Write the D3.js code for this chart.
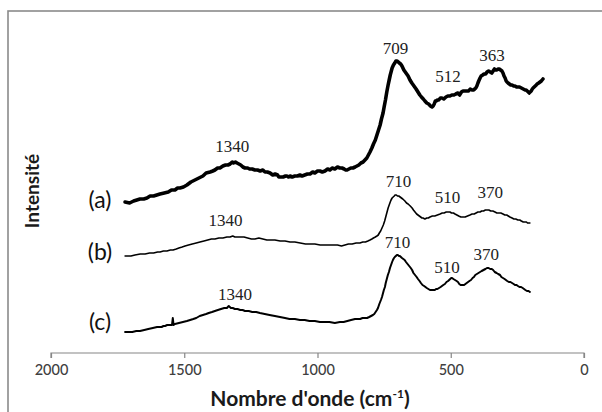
<!DOCTYPE html>
<html><head><meta charset="utf-8">
<script src="https://cdn.jsdelivr.net/npm/d3@7"></script>
<style>html,body{margin:0;padding:0;background:#fff;overflow:hidden}</style>
</head><body>
<svg id="chart" width="602" height="412"></svg>
<script>
// wavenumber (cm-1) , relative intensity (a.u., offset spectra)
const spectrumA = [[1722,151],[1705,150],[1690,152],[1678,153],[1666,154],[1652,154],[1640,155],[1628,157],[1615,157],[1603,158],[1591,159],[1575,160],[1560,161],[1548,163],[1535,163],[1525,165],[1516,165],[1503,166],[1490,168],[1475,171],[1460,173],[1445,175],[1430,177],[1418,180],[1403,181],[1393,182],[1385,183],[1375,185],[1366,185],[1355,187],[1345,188],[1336,188],[1328,189],[1320,191],[1315,190],[1308,191],[1302,190],[1295,189],[1288,188],[1280,186],[1272,185],[1262,185],[1255,184],[1245,184],[1235,183],[1225,183],[1215,182],[1205,183],[1197,181],[1188,181],[1178,180],[1168,178],[1159,179],[1150,178],[1145,176],[1137,176],[1129,176],[1120,177],[1115,177],[1109,176],[1103,177],[1095,176],[1085,177],[1075,177],[1066,178],[1058,177],[1048,178],[1038,179],[1028,179],[1018,181],[1010,180],[1000,182],[991,182],[982,181],[972,182],[962,184],[953,183],[945,185],[935,184],[925,186],[916,185],[908,185],[900,184],[894,183],[889,183],[882,184],[875,185],[867,185],[859,186],[852,187],[845,188],[837,190],[829,191],[822,193],[815,195],[809,198],[803,201],[796,205],[790,209],[783,213],[777,218],[771,223],[765,228],[760,234],[754,240],[750,246],[745,253],[740,261],[735,268],[731,273],[727,278],[723,282],[720,285],[715,288],[710,290],[706,292],[702,292],[697,291],[693,290],[688,289],[683,287],[676,283],[668,280],[660,277],[653,273],[646,270],[638,267],[630,264],[623,261],[616,258],[610,256],[603,254],[597,252],[590,250],[583,249],[576,247],[570,246],[566,247],[562,249],[558,252],[555,252],[550,253],[545,253],[539,255],[533,255],[526,254],[518,256],[511,257],[503,257],[496,258],[488,258],[481,259],[473,260],[467,258],[460,261],[454,262],[447,262],[440,262],[433,262],[427,264],[420,263],[415,263],[410,264],[406,265],[402,267],[398,270],[395,272],[390,275],[386,277],[380,278],[375,279],[369,279],[364,281],[358,282],[352,281],[346,280],[341,282],[336,284],[332,283],[327,283],[323,284],[318,284],[313,283],[308,282],[304,280],[300,277],[296,275],[292,272],[289,271],[285,270],[280,269],[275,268],[270,268],[264,267],[259,267],[253,266],[248,266],[242,266],[235,265],[228,264],[221,263],[217,263],[213,262],[209,261],[206,260],[202,261],[198,262],[194,264],[191,265],[187,266],[183,267],[179,268],[176,269],[170,270],[165,271],[160,272],[154,274]];
const spectrumB = [[1722,97],[1700,97],[1685,98],[1665,99],[1647,99],[1630,100],[1615,100],[1600,101],[1591,101],[1578,102],[1565,102],[1552,103],[1542,103],[1530,104],[1520,105],[1508,106],[1497,107],[1484,108],[1470,109],[1455,110],[1441,111],[1426,112],[1412,113],[1398,114],[1385,114],[1370,115],[1355,115],[1340,116],[1328,116],[1318,117],[1310,116],[1300,116],[1291,116],[1276,116],[1262,115],[1248,114],[1235,114],[1220,115],[1205,114],[1190,113],[1178,113],[1160,113],[1140,112],[1122,112],[1103,111],[1085,111],[1065,110],[1045,109],[1028,109],[1010,109],[990,108],[972,108],[953,108],[938,108],[925,108],[910,107],[897,108],[884,109],[870,109],[855,110],[841,110],[830,111],[820,111],[811,112],[803,113],[796,114],[790,115],[783,116],[777,117],[772,118],[768,120],[763,122],[758,125],[753,128],[748,132],[743,137],[739,141],[735,145],[731,148],[727,151],[724,153],[720,155],[716,156],[712,157],[709,158],[704,158],[700,157],[695,157],[690,156],[685,155],[680,154],[676,153],[672,152],[666,150],[660,149],[652,147],[645,145],[640,143],[634,141],[628,139],[623,138],[618,137],[613,136],[608,135],[604,135],[597,134],[590,135],[584,135],[578,136],[569,137],[560,137],[550,138],[540,139],[532,140],[525,140],[517,141],[510,141],[503,141],[497,140],[490,140],[484,139],[477,138],[470,137],[462,136],[454,136],[446,136],[437,137],[428,138],[420,139],[412,139],[405,140],[398,141],[390,141],[384,142],[377,142],[370,143],[364,143],[357,143],[350,142],[342,142],[334,141],[327,140],[320,140],[312,140],[304,139],[297,138],[290,138],[284,137],[278,136],[270,135],[263,134],[256,134],[248,133],[241,133],[235,132],[228,131],[221,131],[216,131],[212,130],[207,130],[203,130]];
const spectrumC = [[1722,21],[1708,21],[1695,21],[1680,22],[1666,22],[1650,23],[1635,24],[1618,25],[1602,26],[1593,26],[1585,26],[1578,27],[1572,27],[1564,28],[1556,28],[1550,28],[1546,28],[1543,35],[1540,28],[1535,29],[1520,30],[1505,31],[1490,32],[1478,33],[1466,34],[1455,35],[1442,37],[1430,38],[1418,39],[1408,40],[1396,41],[1385,42],[1374,43],[1362,44],[1350,45],[1340,45],[1333,47],[1325,45],[1318,45],[1310,44],[1300,44],[1290,43],[1281,43],[1272,42],[1258,42],[1245,41],[1230,41],[1216,40],[1198,39],[1180,38],[1160,37],[1141,36],[1122,35],[1105,34],[1085,34],[1066,33],[1048,33],[1030,32],[1010,32],[991,31],[972,31],[955,31],[935,30],[916,31],[902,31],[888,32],[874,33],[859,34],[850,34],[840,34],[831,35],[822,35],[814,35],[806,36],[799,37],[792,38],[787,39],[782,41],[777,43],[773,45],[768,49],[762,53],[758,56],[755,59],[751,63],[747,66],[744,70],[740,74],[736,78],[732,81],[728,85],[724,88],[720,91],[717,93],[713,95],[710,96],[706,97],[702,98],[698,98],[695,97],[691,97],[687,96],[683,95],[678,94],[673,93],[668,91],[662,89],[656,87],[650,85],[645,83],[640,80],[634,78],[628,76],[623,74],[617,72],[612,70],[606,68],[600,67],[595,66],[590,65],[584,64],[578,63],[572,63],[566,63],[560,63],[555,64],[550,64],[544,65],[538,66],[533,67],[528,68],[522,69],[516,71],[510,72],[506,73],[502,74],[498,75],[495,75],[490,74],[484,73],[478,72],[473,71],[468,69],[463,68],[458,68],[454,68],[450,68],[445,69],[440,70],[435,71],[430,72],[424,73],[418,75],[413,76],[408,78],[402,79],[396,80],[390,81],[384,82],[377,83],[370,84],[364,85],[358,85],[352,84],[346,84],[341,83],[335,81],[328,80],[322,79],[315,78],[310,76],[304,75],[298,74],[293,73],[288,72],[282,71],[276,71],[270,70],[264,69],[259,68],[253,68],[248,67],[242,66],[236,66],[230,65],[225,64],[220,63],[214,62],[208,62],[203,61]];
const curveNames = ["(a)","(b)","(c)"];
const xTicks = [2000,1500,1000,500,0];
// peak labels: [text, wavenumber position, intensity position]
const labelsA = [["1340",1320,201],["709",707,299],["512",510,271],["363",345,292]];
const labelsB = [["1340",1345,127],["710",696,166],["510",512,150],["370",352,155]];
const labelsC = [["1340",1310,53],["710",700,105],["510",514,80],["370",367,93]];
const nameLevels = [153,101,31];

const svg = d3.select("#chart");
const x = d3.scaleLinear().domain([2000,0]).range([51,584]);
const y = d3.scaleLinear().domain([0,341]).range([353,12]);

// outer frame
svg.append("rect").attr("x",8).attr("y",11).attr("width",620).attr("height",430)
  .attr("fill","none").attr("stroke","#8a8a8a").attr("stroke-width",1.6);

// x axis
const ax = svg.append("g").attr("transform",`translate(0,${y(0)})`)
  .call(d3.axisBottom(x).tickValues(xTicks).tickSize(5).tickPadding(7).tickFormat(d3.format("d")));
ax.select(".domain").attr("stroke","#868686").attr("stroke-width",1.2).attr("d",`M${x(2000)},5V0H${x(0)}V5`);
ax.selectAll(".tick line").attr("stroke","#868686").attr("stroke-width",1.2);
ax.selectAll(".tick text").attr("font-family","Lato, 'Open Sans', sans-serif").attr("font-size",14.5)
  .attr("fill","#404040").attr("font-weight",500);

// axis titles
const title = svg.append("text").attr("x",310).attr("y",406).attr("text-anchor","middle")
  .attr("font-family","Lato, 'Open Sans', sans-serif").attr("font-weight","bold").attr("font-size",21).attr("fill","#1a1a1a");
title.append("tspan").text("Nombre d'onde (cm");
title.append("tspan").text("-1").attr("font-size",12).attr("dy",-8);
title.append("tspan").text(")").attr("dy",8);

svg.append("text").attr("transform","translate(39,191) rotate(-90)").attr("text-anchor","middle")
  .attr("font-family","Lato, 'Open Sans', sans-serif").attr("font-weight","bold").attr("font-size",19).attr("fill","#1a1a1a")
  .text("Intensité");

const line = d3.line().x(d=>x(d[0])).y(d=>y(d[1]));
const specs = [spectrumA, spectrumB, spectrumC];
const widths = [3.6,1.6,2.0];
specs.forEach((s,i)=>{
  svg.append("path").datum(s).attr("d",line).attr("fill","none").attr("stroke","#000")
    .attr("stroke-width",widths[i]).attr("stroke-linejoin","round").attr("stroke-linecap","round");
});

// curve names
curveNames.forEach((n,i)=>{
  svg.append("text").attr("x",100).attr("y",y(nameLevels[i])).attr("dy","0.35em").attr("text-anchor","middle")
    .attr("font-family","Lato, 'Open Sans', sans-serif").attr("font-size",23).attr("fill","#111").text(n);
});

// peak labels
[labelsA,labelsB,labelsC].forEach(arr=>{
  arr.forEach(l=>{
    svg.append("text").attr("x",x(l[1])).attr("y",y(l[2])).attr("text-anchor","middle")
      .attr("font-family","'Liberation Serif', 'Times New Roman', serif").attr("font-size",17)
      .attr("fill","#222").text(l[0]);
  });
});
</script>
</body></html>
